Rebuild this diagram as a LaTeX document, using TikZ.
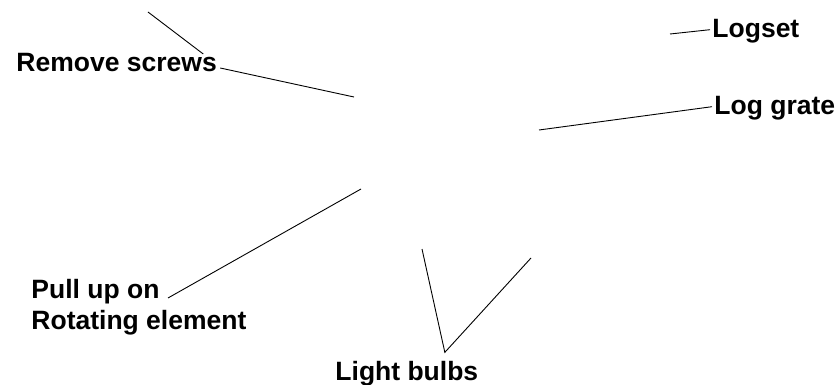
\documentclass[tikz,border=0pt]{standalone}
\usepackage{fontspec}
\setmainfont{Liberation Sans}

\begin{document}
\begin{tikzpicture}[x=1pt, y=-1pt, line width=0.9pt]
			\tikzset{lbl/.style={font=\fontsize{26.5}{31}\selectfont\bfseries, inner sep=0pt, anchor=base west, align=left}}
			\useasboundingbox (0,0) rectangle (839,385);

			\coordinate (scrA) at (148,12);
			\coordinate (scrB) at (354,97);
			\coordinate (setA) at (670,34);
			\coordinate (grateA) at (539,130);
			\coordinate (pullA) at (361,189);
			\coordinate (bulbA) at (422,249);
			\coordinate (bulbB) at (531,258);

			\node[lbl] (screws) at (16,72) {Remove screws};
			\node[lbl] (logset) at (712,38) {Logset};
			\node[lbl] (grate) at (714,115) {Log grate};
			\node[lbl] (pull) at (31,329) {Pull up on\\Rotating element};
			\node[lbl] (bulbs) at (335,380) {Light bulbs};

			\draw (scrA) -- ([shift={(-14,-18)}]screws.base east);
			\draw ([shift={(3,-4)}]screws.base east) -- (scrB);
			\draw (setA) -- ([shift={(-2,-2)}]logset.west);
			\draw (grateA) -- ([shift={(-2,-2)}]grate.west);
			\draw (pullA) -- ([shift={(137,-31)}]pull.base west);
			\draw (bulbA) -- ([shift={(38,-8)}]bulbs.north) -- (bulbB);
		\end{tikzpicture}
\end{document}
